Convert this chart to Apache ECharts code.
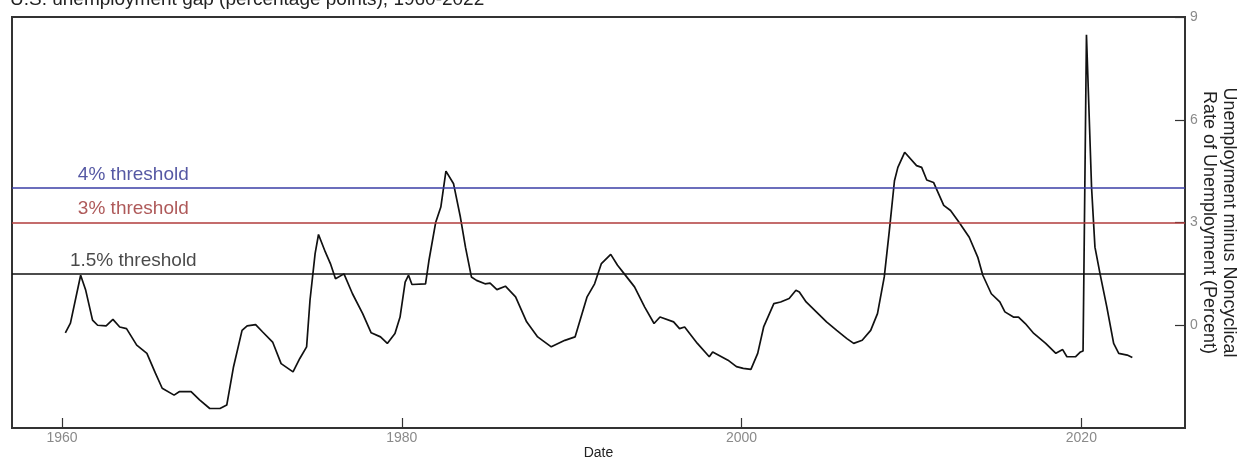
<!DOCTYPE html>
<html>
<head>
<meta charset="utf-8">
<script src="https://cdn.jsdelivr.net/npm/echarts@6/dist/echarts.min.js"></script>
<style>
  html, body { margin: 0; padding: 0; background: #fff; }
  #chart { width: 1239px; height: 463px; }
</style>
</head>
<body>
<div id="chart"></div>
<script>
// Unemployment gap: unemployment rate minus the noncyclical rate (percentage points)
const dates = [
  1960.2, 1960.5, 1961.1, 1961.4, 1961.8, 1962.1, 1962.6, 1963.0, 1963.4, 1963.8,
  1964.4, 1965.0, 1965.5, 1965.9, 1966.6, 1966.9, 1967.6, 1968.1, 1968.7, 1969.3,
  1969.7, 1970.1, 1970.6, 1970.9, 1971.4, 1971.8, 1972.4, 1972.9, 1973.6, 1974.0,
  1974.4, 1974.6, 1974.9, 1975.1, 1975.5, 1975.8, 1976.1, 1976.6, 1977.1, 1977.7,
  1978.2, 1978.75, 1979.15, 1979.6, 1979.9, 1980.2, 1980.4, 1980.6, 1981.4, 1981.6,
  1982.0, 1982.3, 1982.6, 1983.05, 1983.45, 1983.75, 1984.1, 1984.4, 1984.9, 1985.2,
  1985.6, 1986.1, 1986.7, 1987.35, 1988.0, 1988.8, 1989.6, 1990.2, 1990.9, 1991.35,
  1991.75, 1992.3, 1992.7, 1993.1, 1993.7, 1994.3, 1994.85, 1995.2, 1996.0, 1996.35,
  1996.65, 1997.4, 1998.1, 1998.3, 1999.2, 1999.7, 2000.1, 2000.55, 2000.95, 2001.3,
  2001.9, 2002.3, 2002.8, 2003.2, 2003.4, 2003.8, 2004.4, 2005.0, 2005.6, 2006.2,
  2006.6, 2007.1, 2007.6, 2008.0, 2008.4, 2008.7, 2009.0, 2009.2, 2009.6, 2010.3,
  2010.6, 2010.9, 2011.3, 2011.9, 2012.3, 2012.8, 2013.4, 2013.9, 2014.2, 2014.7,
  2015.2, 2015.5, 2016.0, 2016.3, 2016.7, 2017.2, 2017.9, 2018.5, 2018.9, 2019.15,
  2019.65, 2019.95, 2020.1, 2020.3, 2020.6, 2020.8, 2021.1, 2021.5, 2021.9, 2022.2,
  2022.7, 2023.0
];
const gapValues = [
  -0.22, 0.06, 1.46, 1.02, 0.15, 0.00, -0.02, 0.17, -0.05, -0.10,
  -0.58, -0.82, -1.40, -1.84, -2.04, -1.94, -1.94, -2.18, -2.43, -2.43,
  -2.33, -1.21, -0.15, -0.02, 0.02, -0.19, -0.49, -1.12, -1.36, -0.97,
  -0.63, 0.73, 2.09, 2.65, 2.14, 1.80, 1.36, 1.50, 0.92, 0.34,
  -0.22, -0.34, -0.53, -0.24, 0.24, 1.26, 1.46, 1.19, 1.21, 1.89,
  3.01, 3.45, 4.50, 4.13, 3.16, 2.28, 1.41, 1.31, 1.21, 1.23,
  1.04, 1.14, 0.83, 0.10, -0.34, -0.63, -0.44, -0.34, 0.82, 1.21,
  1.80, 2.07, 1.75, 1.50, 1.12, 0.53, 0.05, 0.24, 0.10, -0.10,
  -0.05, -0.53, -0.92, -0.78, -1.02, -1.21, -1.26, -1.29, -0.82, -0.05,
  0.63, 0.68, 0.78, 1.02, 0.97, 0.68, 0.39, 0.10, -0.15, -0.39,
  -0.53, -0.44, -0.15, 0.34, 1.41, 2.77, 4.22, 4.61, 5.05, 4.66,
  4.61, 4.24, 4.17, 3.50, 3.35, 3.01, 2.57, 1.99, 1.46, 0.92,
  0.68, 0.39, 0.24, 0.24, 0.05, -0.24, -0.53, -0.82, -0.71, -0.92,
  -0.92, -0.78, -0.75, 8.48, 4.03, 2.28, 1.50, 0.53, -0.53, -0.82,
  -0.87, -0.94
];

const thresholdValues = [4, 3, 1.5];
const thresholdLabels = ['4% threshold', '3% threshold', '1.5% threshold'];
const thresholdLabelYear = 1964.2;

const xTicks = [1960, 1980, 2000, 2020];
const yTicks = [0, 3, 6, 9];

// colours for the three reference lines and their captions
const lineColors = ['#3a3ea6', '#b03b3b', '#111111'];
const textColors = ['#2b2e8c', '#9a2f2f', '#1a1a1a'];

const FONT = '"Liberation Sans", Arial, Helvetica, sans-serif';

const gapData = dates.map((d, i) => [d, gapValues[i]]);

const chart = echarts.init(document.getElementById('chart'), null, { renderer: 'canvas' });

chart.setOption({
  animation: false,
  backgroundColor: '#ffffff',
  title: {
    text: 'U.S. unemployment gap (percentage points), 1960-2022',
    left: 5,
    top: -15,
    textStyle: { fontFamily: FONT, fontSize: 19, fontWeight: 'normal', color: '#222' }
  },
  grid: {
    left: 12, right: 54, top: 17, bottom: 35,
    outerBoundsMode: 'none',
    containLabel: false,
    show: true, borderColor: '#333', borderWidth: 2, backgroundColor: 'transparent'
  },
  xAxis: {
    type: 'value',
    min: 1957.06,
    max: 2026.1,
    name: 'Date',
    nameLocation: 'middle',
    nameGap: 18,
    nameMoveOverlap: false,
    nameTextStyle: { fontFamily: FONT, fontSize: 14, color: '#222' },
    axisLine: { show: true, onZero: false, lineStyle: { color: '#333', width: 2 } },
    axisTick: { show: true, inside: true, length: 10, customValues: xTicks, lineStyle: { color: '#333', width: 1.2 } },
    axisLabel: {
      customValues: xTicks, color: '#8a8a8a', fontSize: 14, margin: 3,
      fontFamily: FONT,
      formatter: v => String(v)
    },
    splitLine: { show: false }
  },
  yAxis: {
    type: 'value',
    position: 'right',
    min: -3,
    max: 9,
    name: 'Unemployment minus Noncyclical\nRate of Unemployment (Percent)',
    nameLocation: 'middle',
    nameRotate: -90,
    nameGap: 14,
    nameMoveOverlap: false,
    nameTextStyle: { fontFamily: FONT, fontSize: 18, color: '#222', lineHeight: 20 },
    axisLine: { show: true, onZero: false, lineStyle: { color: '#333', width: 2 } },
    axisTick: { show: true, inside: true, length: 10, customValues: yTicks, lineStyle: { color: '#333', width: 1.2 } },
    axisLabel: { customValues: yTicks, color: '#8a8a8a', fontSize: 14, margin: 5, fontFamily: FONT },
    splitLine: { show: false }
  },
  series: [
    {
      type: 'line',
      data: gapData,
      showSymbol: false,
      symbol: 'none',
      lineStyle: { color: '#111', width: 1.7 },
      z: 3,
      markLine: {
        silent: true,
        symbol: 'none',
        label: { show: false },
        data: thresholdValues.map((v, i) => ({
          yAxis: v,
          lineStyle: { color: lineColors[i], width: 1.6, type: 'solid' }
        }))
      }
    },
    {
      type: 'scatter',
      symbolSize: 0,
      silent: true,
      z: 4,
      data: thresholdValues.map((v, i) => ({
        value: [thresholdLabelYear, v],
        name: thresholdLabels[i],
        label: { color: textColors[i] }
      })),
      label: {
        show: true,
        position: 'top',
        distance: 4,
        formatter: p => p.name,
        fontFamily: FONT,
        fontSize: 19
      }
    }
  ]
});
</script>
</body>
</html>
